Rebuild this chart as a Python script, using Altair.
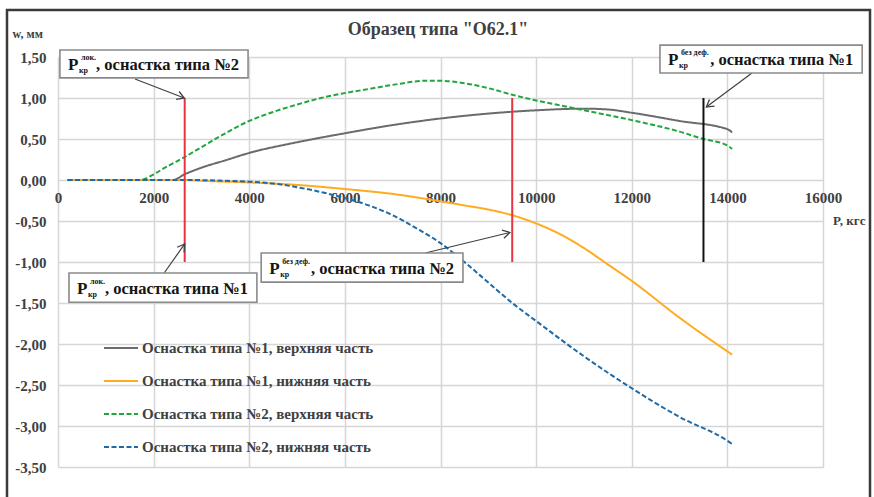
import math
import altair as alt
import pandas as pd

SERIF = "Liberation Serif"
INK = "#404040"
GRID = "#d6d6d6"

# plot geometry (pixels) used for arrowhead orientation
PLOT_W, PLOT_H = 765, 410
P_MAX, W_MIN, W_MAX = 16000, -3.5, 1.5

# ---- series -------------------------------------------------------------
series_names = [
    "Оснастка типа №1, верхняя часть",
    "Оснастка типа №1, нижняя часть",
    "Оснастка типа №2, верхняя часть",
    "Оснастка типа №2, нижняя часть",
]
series_colors = ["#6b6b6b", "#ffab1f", "#22a53c", "#1f6aa5"]
series_dash = [[1, 0], [1, 0], [5, 2.5], [5, 2.5]]

p1_upper = [200, 1000, 2000, 2400, 2650, 3000, 3500, 4000, 5000, 6000, 7000,
            8000, 9000, 10000, 11000, 11500, 12000, 13000, 14000, 14100]
w1_upper = [0, 0, 0, 0, 0.07, 0.15, 0.24, 0.33, 0.46, 0.57, 0.67,
            0.75, 0.81, 0.85, 0.87, 0.86, 0.82, 0.72, 0.62, 0.58]

p1_lower = [200, 1000, 2000, 2600, 3000, 4000, 5000, 6000, 7000, 8000, 8500,
            9000, 9500, 10000, 10500, 11000, 11500, 12000, 13000, 14000, 14100]
w1_lower = [0, 0, 0, 0, -0.01, -0.03, -0.06, -0.11, -0.17, -0.26, -0.31,
            -0.36, -0.43, -0.53, -0.66, -0.83, -1.03, -1.23, -1.68, -2.09, -2.13]

p2_upper = [200, 1000, 1700, 1800, 2000, 2300, 2650, 3000, 3500, 4000, 4500,
            5000, 5500, 6000, 6500, 7000, 7700, 8000, 8500, 9000, 9500, 10000,
            10500, 11000, 12000, 13000, 13500, 14000, 14100]
w2_upper = [0, 0, 0, 0.01, 0.07, 0.17, 0.28, 0.40, 0.57, 0.72, 0.83,
            0.92, 1.00, 1.06, 1.11, 1.16, 1.21, 1.21, 1.18, 1.12, 1.04, 0.97,
            0.91, 0.85, 0.73, 0.59, 0.50, 0.42, 0.38]

p2_lower = [200, 1000, 2000, 2800, 3500, 4000, 4600, 5200, 6000, 6500, 7000,
            7500, 8000, 8500, 9000, 9500, 10000, 11000, 12000, 13000, 14000, 14100]
w2_lower = [0, 0, 0, 0, -0.01, -0.02, -0.05, -0.11, -0.22, -0.31, -0.43,
            -0.59, -0.77, -1.00, -1.25, -1.50, -1.72, -2.15, -2.54, -2.89, -3.18, -3.22]

# ---- critical-load markers ----------------------------------------------
marker_p = [2650, 9500, 13500]
marker_color = ["#e83440", "#e83440", "#111111"]
marker_w_low = [-1.0, -1.0, -1.0]
marker_w_high = [1.0, 1.0, 1.0]

# ---- callouts -------------------------------------------------------------
callout_sup = ["лок.", "лок.", "без деф.", "без деф."]
callout_main = [", оснастка типа №2", ", оснастка типа №1",
                ", оснастка типа №2", ", оснастка типа №1"]
box_p_left = [40, 230, 4250, 12590]
box_p_right = [3975, 4160, 8470, 16820]
box_w_top = [1.585, -1.135, -0.89, 1.645]
box_w_bottom = [1.245, -1.49, -1.245, 1.305]
arrow_p_from = [1610, 2220, 7680, 14515]
arrow_w_from = [1.232, -1.134, -0.89, 1.305]
arrow_p_to = [2640, 2650, 9450, 13560]
arrow_w_to = [1.0, -0.78, -0.64, 0.89]

# ---- tables ---------------------------------------------------------------
rows = []
for name, ps, ws in zip(series_names,
                        [p1_upper, p1_lower, p2_upper, p2_lower],
                        [w1_upper, w1_lower, w2_upper, w2_lower]):
    for i, (p, w) in enumerate(zip(ps, ws)):
        rows.append({"series": name, "P": p, "w": w, "i": i})
df_lines = pd.DataFrame(rows)

df_markers = pd.DataFrame({"P": marker_p, "w": marker_w_low,
                           "w2": marker_w_high, "c": marker_color})

df_boxes = pd.DataFrame({"P": box_p_left, "P2": box_p_right,
                         "w": box_w_top, "w2": box_w_bottom,
                         "sup": callout_sup, "main": callout_main})
df_boxes["wm"] = (df_boxes["w"] + df_boxes["w2"]) / 2

ang = []
for p0, w0, p1, w1 in zip(arrow_p_from, arrow_w_from, arrow_p_to, arrow_w_to):
    dx = (p1 - p0) * PLOT_W / P_MAX
    dy = -(w1 - w0) * PLOT_H / (W_MAX - W_MIN)
    ang.append(math.degrees(math.atan2(dy, dx)) % 360)
df_arrows = pd.DataFrame({"P": arrow_p_from, "w": arrow_w_from,
                          "P2": arrow_p_to, "w2": arrow_w_to})
df_heads = pd.DataFrame({"P": arrow_p_to, "w": arrow_w_to, "ang": ang})

# ---- scales / axes --------------------------------------------------------
x_scale = alt.Scale(domain=[0, P_MAX], nice=False, zero=False)
y_scale = alt.Scale(domain=[W_MIN, W_MAX], nice=False, zero=False)

x_axis = alt.Axis(
    values=list(range(0, 16001, 2000)), format="d", title="P, кгс",
    labelFont=SERIF, labelFontWeight="bold", labelFontSize=15, labelColor=INK,
    labelFlush=False, labelOverlap=False, labelBaseline="top", labelPadding=-277,
    ticks=False, domain=False, grid=True, gridColor=GRID, gridWidth=1.5,
    titleFont=SERIF, titleFontWeight="bold", titleFontSize=13, titleColor=INK,
    titleAngle=0, titleAlign="right", titleBaseline="middle",
    titleX=807, titleY=-247,
)
y_axis = alt.Axis(
    values=[W_MAX - 0.5 * k for k in range(11)],
    labelExpr="(datum.value < 0 ? '-' : '') + replace(format(abs(datum.value), '.2f'), '.', ',')",
    title="w, мм",
    labelFont=SERIF, labelFontWeight="bold", labelFontSize=15, labelColor=INK,
    labelPadding=12, ticks=False, domain=False,
    grid=True, gridColor=GRID, gridWidth=1.5,
    titleFont=SERIF, titleFontWeight="bold", titleFontSize=12, titleColor=INK,
    titleAngle=0, titleAlign="left", titleBaseline="middle",
    titleX=-46, titleY=-24,
)

X = lambda f="P": alt.X(f"{f}:Q", scale=x_scale, axis=x_axis)
Y = lambda f="w": alt.Y(f"{f}:Q", scale=y_scale, axis=y_axis)

legend = alt.Legend(
    title=None, orient="none", legendX=53.5, legendY=281.5, direction="vertical",
    labelFont=SERIF, labelFontWeight="bold", labelFontSize=15, labelColor=INK,
    symbolType="M-2,0L2,0", symbolSize=289, symbolStrokeWidth=2,
    labelOffset=11.5, rowPadding=15, labelLimit=400,
)

# ---- layers ---------------------------------------------------------------
frame = alt.Chart(pd.DataFrame({"k": [0]})).mark_rect(
    fillOpacity=0, stroke="#3a3a3a", strokeWidth=2.5
).encode(x=alt.value(-51), x2=alt.value(812), y=alt.value(-47), y2=alt.value(452))

title = alt.Chart(pd.DataFrame({"t": ['Образец типа "О62.1"']})).mark_text(
    font=SERIF, fontWeight="bold", fontSize=18, color=INK,
    align="center", baseline="middle"
).encode(text="t:N", x=alt.value(380), y=alt.value(-27))

lines = alt.Chart(df_lines).mark_line(interpolate="monotone", strokeWidth=2).encode(
    x=X(), y=Y(),
    color=alt.Color("series:N", sort=series_names,
                    scale=alt.Scale(domain=series_names, range=series_colors),
                    legend=legend),
    strokeDash=alt.StrokeDash("series:N", sort=series_names,
                              scale=alt.Scale(domain=series_names, range=series_dash),
                              legend=legend),
    order="i:Q",
)

markers = alt.Chart(df_markers).mark_rule(strokeWidth=2).encode(
    x=X(), y=Y(), y2="w2:Q", color=alt.Color("c:N", scale=None)
)

arrows = alt.Chart(df_arrows).mark_rule(strokeWidth=1.2, color=INK).encode(
    x=X(), y=Y(), x2="P2:Q", y2="w2:Q"
)
heads = alt.Chart(df_heads).mark_point(
    shape="M-1,-0.6L0,0L-1,0.6", filled=False, size=200,
    strokeWidth=1.3, color=INK, opacity=1
).encode(x=X(), y=Y(), angle=alt.Angle("ang:Q", scale=None))

boxes = alt.Chart(df_boxes).mark_rect(
    fill="white", stroke="#8a8a8a", strokeWidth=1.6
).encode(x=X(), x2="P2:Q", y=Y(), y2="w2:Q")

txt = dict(font=SERIF, fontWeight="bold", color="#151515", baseline="middle")
t_p = alt.Chart(df_boxes).mark_text(text="P", align="left", dx=8, dy=1, fontSize=17, **txt).encode(
    x=X(), y=Y("wm"))
t_sub = alt.Chart(df_boxes).mark_text(text="кр", align="left", dx=19, dy=7, fontSize=8, **txt).encode(
    x=X(), y=Y("wm"))
t_sup = alt.Chart(df_boxes).mark_text(align="left", dx=21, dy=-6, fontSize=8, **txt).encode(
    x=X(), y=Y("wm"), text="sup:N")
t_main = alt.Chart(df_boxes).mark_text(align="right", dx=-9, dy=1, fontSize=16.5, **txt).encode(
    x=X("P2"), y=Y("wm"), text="main:N")

chart = alt.layer(
    frame, title, lines, markers, arrows, heads, boxes, t_p, t_sub, t_sup, t_main
).properties(
    width=PLOT_W, height=PLOT_H,
    autosize=alt.AutoSizeParams(type="none"),
    padding={"left": 58, "top": 57, "right": 51, "bottom": 30},
    background="white",
).configure_view(strokeWidth=0)

chart.save("out.html", embed_options={"renderer": "svg", "actions": False})
